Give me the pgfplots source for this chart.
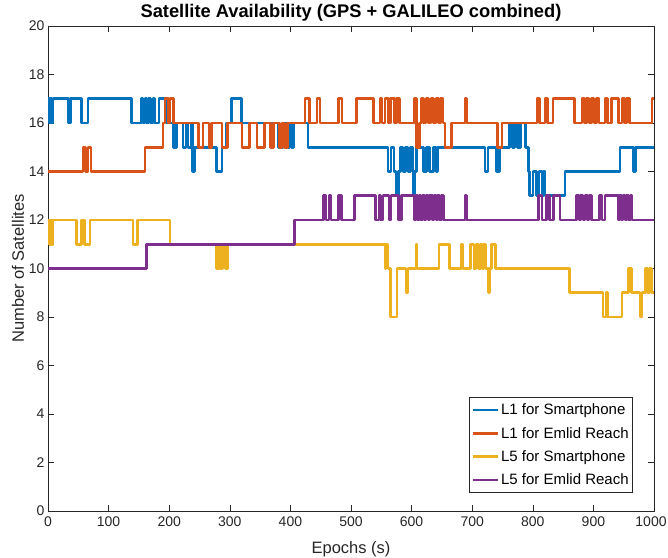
\documentclass[border=0pt]{standalone}
\usepackage{fontspec}
\setmainfont{Liberation Sans}
\usepackage{pgfplots}
\pgfplotsset{compat=1.18}
\definecolor{mB}{rgb}{0,0.447,0.741}
\definecolor{mO}{rgb}{0.850,0.325,0.098}
\definecolor{mY}{rgb}{0.929,0.694,0.125}
\definecolor{mP}{rgb}{0.494,0.184,0.556}
\definecolor{axc}{rgb}{0.15,0.15,0.15}
\begin{document}
\begin{tikzpicture}
\useasboundingbox (-48bp,-47bp) rectangle (620bp,511bp);
\begin{axis}[
  scale only axis, width=606bp, height=485bp,
  at={(0,0)}, anchor=south west,
  xmin=0, xmax=1000, ymin=0, ymax=20,
  xtick={0,100,...,1000}, ytick={0,2,...,20},
  xticklabels={0,100,200,300,400,500,600,700,800,900,\hspace*{-6bp}1000},
  tick align=inside, tick pos=both,
  major tick length=6bp,
  axis line style={axc, line width=0.6bp},
  every tick/.style={axc, line width=0.6bp},
  tick label style={font=\fontsize{14bp}{17bp}\selectfont, text=axc},
  xticklabel style={yshift=-2bp},
  /pgf/number format/assume math mode=true,
  /pgf/number format/set thousands separator={},
  xlabel={Epochs (s)}, ylabel={Number of Satellites},
  label style={font=\fontsize{16.5bp}{19bp}\selectfont, text=axc},
  xlabel style={yshift=-8bp},
  ylabel style={yshift=-2bp},
  title={\bfseries Satellite Availability (GPS + GALILEO combined)},
  title style={font=\fontsize{18.3bp}{21bp}\selectfont, yshift=-5bp},
  legend style={at={(0.9653,0.0371)}, anchor=south east, draw=axc, line width=0.6bp,
    font=\fontsize{15bp}{18bp}\selectfont, row sep=7bp, inner ysep=4.5bp, inner xsep=2bp},
  legend cell align=left,
  legend image code/.code={\draw[#1, line width=2.6bp] (0bp,0bp) -- (25bp,0bp);},
  every axis plot/.append style={line width=2.6bp, const plot, line join=round},
]
\addplot[mB] coordinates {
(0,17)(2,16)(4,17)(6,16)(8,17)(34,16)(37,17)(55,16)(66,17)(138,16)(154,17)(157,16)(160,17)(163,16)(166,17)(169,16)(173,17)(176,16)(183,17)(196,16)(207,15)(212,16)(223,15)(228,16)(231,15)(236,16)(238,14)(242,15)(278,14)(287,15)(295,16)(303,17)(319,16)(380,15)(388,16)(396,15)(399,16)(402,15)(405,16)(429,15)(561,14)(566,15)(571,14)(574,13)(578,14)(582,15)(586,14)(590,15)(594,14)(598,15)(602,13)(605,14)(608,15)(620,14)(625,15)(630,14)(636,15)(640,14)(643,15)(721,14)(726,15)(740,14)(745,15)(762,16)(766,15)(770,16)(775,15)(780,16)(788,15)(793,14)(795,13)(800,14)(806,13)(810,14)(815,13)(818,14)(820,13)(853,14)(944,15)(966,14)(969,15)(1000,15)
};
\addlegendentry{L1 for Smartphone}
\addplot[mO] coordinates {
(0,14)(58,15)(62,14)(66,15)(71,14)(160,15)(190,16)(193,17)(199,16)(201,17)(207,16)(248,15)(256,16)(266,15)(270,16)(287,15)(296,16)(320,15)(333,16)(345,15)(357,16)(367,15)(372,16)(382,15)(386,16)(390,15)(395,16)(424,17)(432,16)(444,17)(449,16)(479,17)(485,16)(509,17)(537,16)(548,17)(551,16)(556,17)(562,16)(565,17)(572,16)(575,17)(580,16)(605,17)(608,15)(613,16)(616,17)(620,16)(624,17)(628,16)(632,17)(636,16)(640,17)(644,16)(648,17)(652,16)(655,15)(666,16)(688,17)(691,16)(742,15)(749,16)(807,17)(811,16)(820,17)(824,16)(833,17)(869,16)(881,17)(885,16)(889,17)(893,16)(897,17)(901,16)(905,17)(909,16)(919,17)(923,16)(930,17)(941,16)(947,17)(951,16)(955,17)(960,16)(997,17)(1000,17)
};
\addlegendentry{L1 for Emlid Reach}
\addplot[mY] coordinates {
(0,12)(2,11)(4,12)(6,11)(8,12)(47,11)(55,12)(60,11)(69,12)(140,11)(148,12)(201,11)(278,10)(283,11)(285,10)(288,11)(293,10)(297,11)(556,10)(558,11)(561,10)(565,8)(576,10)(591,9)(594,10)(607,11)(609,10)(645,11)(663,10)(682,11)(685,10)(697,11)(703,10)(706,11)(710,10)(714,11)(716,10)(719,11)(722,10)(727,9)(729,10)(732,11)(738,10)(861,9)(916,8)(921,9)(923,8)(947,9)(958,10)(963,9)(977,8)(980,9)(986,10)(989,9)(993,10)(996,9)(1000,9)
};
\addlegendentry{L5 for Smartphone}
\addplot[mP] coordinates {
(0,10)(163,11)(407,12)(455,13)(459,12)(464,13)(467,12)(479,13)(484,12)(506,13)(540,12)(546,13)(549,12)(553,13)(563,12)(566,13)(578,12)(583,13)(605,12)(607,13)(610,12)(612,13)(615,12)(618,13)(621,12)(624,13)(627,12)(630,13)(634,12)(637,13)(640,12)(643,13)(646,12)(649,13)(653,12)(688,13)(691,12)(809,13)(815,12)(823,13)(828,12)(834,13)(845,12)(872,13)(876,12)(879,13)(883,12)(886,13)(890,12)(893,13)(897,12)(910,13)(914,12)(919,13)(941,12)(943,13)(946,12)(949,13)(952,12)(955,13)(958,12)(961,13)(964,12)(1000,12)
};
\addlegendentry{L5 for Emlid Reach}
\end{axis}
\end{tikzpicture}
\end{document}
